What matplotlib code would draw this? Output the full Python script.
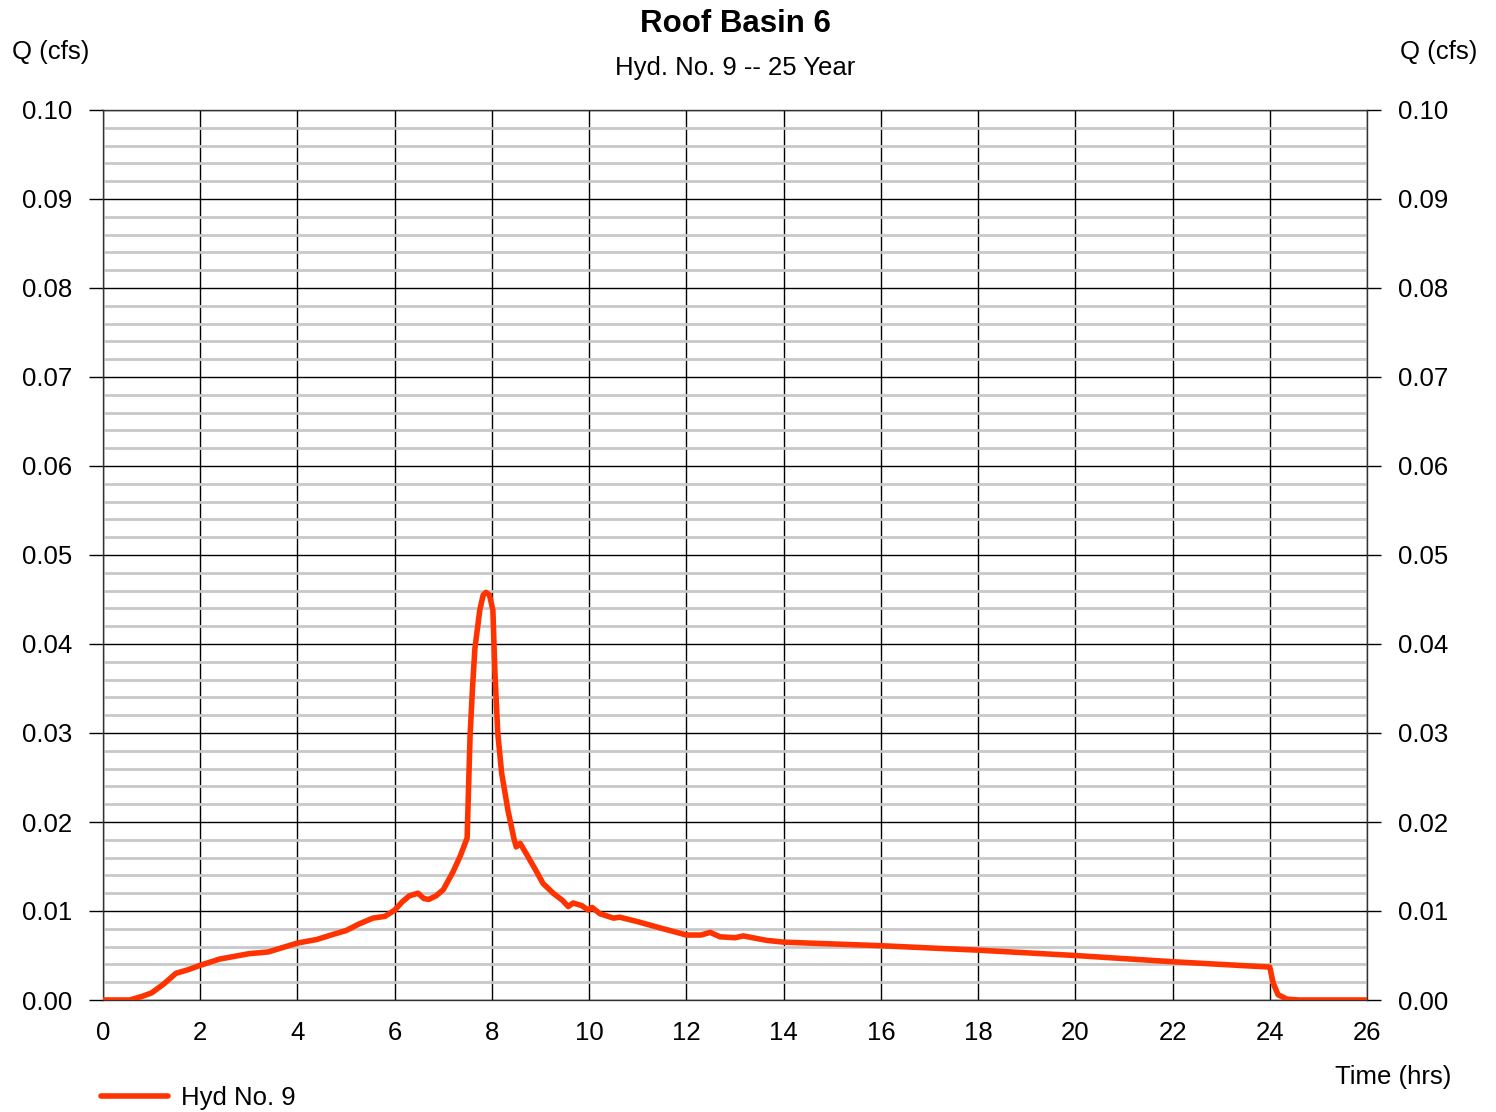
import matplotlib
matplotlib.use("Agg")
import matplotlib.pyplot as plt
import numpy as np

plt.rcParams['font.family'] = ['Liberation Sans', 'DejaVu Sans']

title = "Roof Basin 6"
subtitle = "Hyd. No. 9 -- 25 Year"
series_name = "Hyd No. 9"

time_hrs = [0, 0.55, 0.8, 1.0, 1.25, 1.5, 1.75, 2.0, 2.4, 2.8, 3.0, 3.4, 3.7, 4.0, 4.4,
            4.75, 5.0, 5.25, 5.55, 5.8, 6.0, 6.15, 6.3, 6.48, 6.6, 6.7, 6.85, 7.0, 7.2,
            7.35, 7.49, 7.52, 7.55, 7.6, 7.65, 7.75, 7.82, 7.88, 7.95, 8.02, 8.06, 8.12,
            8.2, 8.33, 8.45, 8.5, 8.58, 8.7, 8.9, 9.05, 9.26, 9.45, 9.57, 9.67, 9.85,
            9.98, 10.06, 10.22, 10.5, 10.63, 11.0, 11.46, 11.8, 12.0, 12.3, 12.49, 12.69,
            13.0, 13.17, 13.65, 14.0, 16.0, 18.0, 20.0, 22.0, 24.0, 24.07, 24.17, 24.35,
            24.6, 26.0]
flow_cfs = [0, 0, 0.0004, 0.0008, 0.0018, 0.0030, 0.0034, 0.0039, 0.0046, 0.0050, 0.0052,
            0.0054, 0.0059, 0.0064, 0.0068, 0.0074, 0.0078, 0.0085, 0.0092, 0.0094, 0.0101,
            0.0110, 0.0117, 0.0120, 0.0114, 0.0113, 0.0117, 0.0124, 0.0144, 0.0162, 0.0182,
            0.0240, 0.0296, 0.0350, 0.0395, 0.0438, 0.0455, 0.0458, 0.0455, 0.0438, 0.0370,
            0.0300, 0.0255, 0.0213, 0.0182, 0.0172, 0.0176, 0.0165, 0.0146, 0.0131, 0.0120,
            0.0112, 0.0105, 0.0109, 0.0106, 0.0101, 0.0104, 0.0097, 0.0092, 0.0093, 0.0088,
            0.0081, 0.0076, 0.0073, 0.0073, 0.0076, 0.0071, 0.0070, 0.0072, 0.0067, 0.0065,
            0.0061, 0.0056, 0.0050, 0.0043, 0.0037, 0.0019, 0.0006, 0.0001, 0.0, 0.0]

x_ticks = list(range(0, 27, 2))
y_ticks = [0.00, 0.01, 0.02, 0.03, 0.04, 0.05, 0.06, 0.07, 0.08, 0.09, 0.10]
y_minor = [i * 0.002 for i in range(51)]

fig = plt.figure(figsize=(14.96, 11.12), dpi=100)
ax = fig.add_axes([103 / 1496, 1 - 1000 / 1112, (1367 - 103) / 1496, (1000 - 110) / 1112])

ax.set_xlim(0, 26)
ax.set_ylim(0, 0.10)
ax.set_xticks(x_ticks)
ax.set_yticks(y_ticks)
ax.set_yticks(y_minor, minor=True)
ax.set_yticklabels([f"{v:.2f}" for v in y_ticks])
ax.set_xticklabels([str(v) for v in x_ticks])

ax.grid(which='minor', axis='y', color='#c8c8c8', lw=2.0, zorder=0)
ax.grid(which='major', axis='y', color='black', lw=1.0, zorder=1)
ax.grid(which='major', axis='x', color='black', lw=1.0, zorder=1)
ax.set_axisbelow(True)

ax.tick_params(axis='y', which='major', direction='out', length=10, width=1.0,
               labelsize=18.5, left=True, right=True, labelleft=True, labelright=True, pad=12)
ax.tick_params(axis='y', which='minor', length=0)
ax.tick_params(axis='x', which='major', length=0, labelsize=18.5, pad=15)

for s in ax.spines.values():
    s.set_color('#333333')
    s.set_linewidth(1.0)

ax.plot(time_hrs, flow_cfs, color='#ff3300', lw=4.0, solid_capstyle='round',
        solid_joinstyle='round', zorder=3, label=series_name)

fig.text(735 / 1496, 1 - 24 / 1112, title, ha='center', va='center',
         fontsize=22.5, fontweight='bold')
fig.text(735 / 1496, 1 - 68 / 1112, subtitle, ha='center', va='center', fontsize=18.5)
fig.text(12 / 1496, 1 - 52 / 1112, "Q (cfs)", ha='left', va='center', fontsize=18.5)
fig.text(1477 / 1496, 1 - 52 / 1112, "Q (cfs)", ha='right', va='center', fontsize=18.5)
fig.text(1451 / 1496, 1 - 1077 / 1112, "Time (hrs)", ha='right', va='center', fontsize=18.5)

leg = fig.legend(loc='center left', bbox_to_anchor=(101 / 1496, 1 - 1098 / 1112),
                 frameon=False, fontsize=18.5, handlelength=2.6, handletextpad=0.5,
                 borderaxespad=0, borderpad=0)

fig.savefig("out.png", dpi=100)
